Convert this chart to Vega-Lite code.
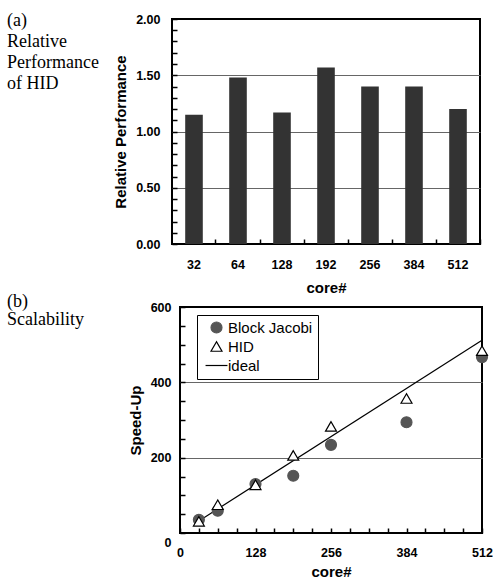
{
  "$schema": "https://vega.github.io/schema/vega-lite/v6.json",
  "background": "white",
  "padding": {"left": 7, "top": 12, "right": 0, "bottom": 0},
  "spacing": -4,
  "config": {
    "view": {"stroke": "black", "strokeWidth": 2},
    "axis": {
      "labelFont": "Liberation Sans", "labelFontWeight": "bold", "labelFontSize": 12.5, "labelColor": "black",
      "titleFont": "Liberation Sans", "titleFontWeight": "bold", "titleFontSize": 15, "titleColor": "black",
      "domain": false, "tickColor": "black", "tickWidth": 1.5, "gridColor": "#666", "gridWidth": 1, "labelOverlap": false
    }
  },
  "datasets": {
    "perf": [
      {"core": 32, "rel": 1.15}, {"core": 64, "rel": 1.48}, {"core": 128, "rel": 1.17},
      {"core": 192, "rel": 1.57}, {"core": 256, "rel": 1.40}, {"core": 384, "rel": 1.40}, {"core": 512, "rel": 1.20}
    ],
    "speed": [
      {"series": "Block Jacobi", "core": 32, "speedup": 35}, {"series": "Block Jacobi", "core": 64, "speedup": 59},
      {"series": "Block Jacobi", "core": 128, "speedup": 130}, {"series": "Block Jacobi", "core": 192, "speedup": 152},
      {"series": "Block Jacobi", "core": 256, "speedup": 234}, {"series": "Block Jacobi", "core": 384, "speedup": 294},
      {"series": "Block Jacobi", "core": 512, "speedup": 467},
      {"series": "HID", "core": 32, "speedup": 31}, {"series": "HID", "core": 64, "speedup": 75},
      {"series": "HID", "core": 128, "speedup": 128}, {"series": "HID", "core": 192, "speedup": 206},
      {"series": "HID", "core": 256, "speedup": 283}, {"series": "HID", "core": 384, "speedup": 357},
      {"series": "HID", "core": 512, "speedup": 484}
    ],
    "ideal": [{"core": 32, "speedup": 32}, {"core": 512, "speedup": 512}]
  },
  "vconcat": [
    {
      "bounds": "flush",
      "spacing": 65,
      "hconcat": [
        {
          "width": 100, "height": 225,
          "view": {"stroke": null},
          "data": {"values": [{"label": "(a)\nRelative\nPerformance\nof HID"}]},
          "mark": {"type": "text", "align": "left", "baseline": "alphabetic", "font": "Liberation Serif", "fontSize": 18, "lineHeight": 21, "lineBreak": "\n", "dy": 7, "color": "black"},
          "encoding": {
            "text": {"field": "label"},
            "x": {"datum": 0, "type": "quantitative", "scale": {"domain": [0, 1]}, "axis": null},
            "y": {"datum": 1, "type": "quantitative", "scale": {"domain": [0, 1]}, "axis": null}
          }
        },
        {
          "width": 308, "height": 225,
          "data": {"name": "perf"},
          "layer": [
            {
              "mark": {"type": "bar", "color": "#333"},
              "encoding": {
                "x": {"field": "core", "type": "ordinal", "sort": null,
                  "scale": {"paddingInner": 0.6, "paddingOuter": 0.3},
                  "axis": {"title": "core#", "labelAngle": 0, "ticks": false, "labelPadding": 14, "titlePadding": 10}},
                "y": {"field": "rel", "type": "quantitative", "scale": {"domain": [0, 2], "nice": false},
                  "axis": {"title": "Relative Performance",
                    "values": [0, 0.5, 1, 1.5, 2], "format": ".2f",
                    "ticks": false, "labelPadding": 12, "titlePadding": 7,
                    "gridOpacity": {"condition": {"test": "datum.value == 0.5 || datum.value == 1 || datum.value == 1.5", "value": 1}, "value": 0}}}
              }
            },
            {
              "mark": {"type": "bar", "opacity": 0},
              "encoding": {
                "x": {"field": "core", "type": "ordinal", "sort": null,
                  "axis": {"orient": "bottom", "bandPosition": 1.75, "labels": false, "title": null, "tickSize": 5, "offset": -5, "grid": false}},
                "y": {"field": "rel", "type": "quantitative",
                  "axis": {"orient": "left", "values": [0, 0.1, 0.2, 0.3, 0.4, 0.5, 0.6, 0.7, 0.8, 0.9, 1, 1.1, 1.2, 1.3, 1.4, 1.5, 1.6, 1.7, 1.8, 1.9, 2],
                    "labels": false, "title": null, "tickSize": 5, "offset": -5, "grid": false}}
              }
            }
          ],
          "resolve": {"axis": {"x": "independent", "y": "independent"}}
        }
      ]
    },
    {
      "bounds": "flush",
      "spacing": 73,
      "hconcat": [
        {
          "width": 100, "height": 226,
          "view": {"stroke": null},
          "data": {"values": [{"label": "(b)\nScalability"}]},
          "mark": {"type": "text", "align": "left", "baseline": "alphabetic", "font": "Liberation Serif", "fontSize": 18, "lineHeight": 18, "lineBreak": "\n", "dy": 0, "color": "black"},
          "encoding": {
            "text": {"field": "label"},
            "x": {"datum": 0, "type": "quantitative", "scale": {"domain": [0, 1]}, "axis": null},
            "y": {"datum": 1, "type": "quantitative", "scale": {"domain": [0, 1]}, "axis": null}
          }
        },
        {
          "width": 302, "height": 226,
          "layer": [
            {
              "data": {"name": "ideal"},
              "mark": {"type": "line", "color": "black", "strokeWidth": 1.2},
              "encoding": {
                "x": {"field": "core", "type": "quantitative", "scale": {"domain": [0, 512], "nice": false},
                  "axis": {"title": "core#", "values": [0, 128, 256, 384, 512],
                    "grid": false, "ticks": false, "labelPadding": 13, "titlePadding": 6, "labelFlush": false}},
                "y": {"field": "speedup", "type": "quantitative", "scale": {"domain": [0, 600], "nice": false},
                  "axis": {"title": "Speed-Up", "values": [0, 200, 400, 600],
                    "ticks": false, "labelPadding": 9, "titlePadding": 7, "labelFlush": false,
                    "labelOffset": {"condition": {"test": "datum.value == 0", "value": 9}, "value": 0},
                    "gridOpacity": {"condition": {"test": "datum.value == 200 || datum.value == 400", "value": 1}, "value": 0}}}
              }
            },
            {
              "data": {"name": "speed"},
              "mark": {"type": "point", "opacity": 1, "size": 120, "strokeWidth": 1.2},
              "encoding": {
                "x": {"field": "core", "type": "quantitative",
                  "axis": {"orient": "bottom", "values": [0, 32, 64, 96, 128, 160, 192, 224, 256, 288, 320, 352, 384, 416, 448, 480, 512],
                    "labels": false, "title": null, "tickSize": 5, "offset": -5, "grid": false}},
                "y": {"field": "speedup", "type": "quantitative",
                  "axis": {"orient": "left", "values": [0, 50, 100, 150, 200, 250, 300, 350, 400, 450, 500, 550, 600],
                    "labels": false, "title": null, "tickSize": 5, "offset": -5, "grid": false}},
                "shape": {"field": "series", "type": "nominal",
                  "scale": {"domain": ["Block Jacobi", "HID", "ideal"], "range": ["circle", "triangle-up", "M-2,0H2"]},
                  "legend": {"orient": "none", "legendX": 190, "legendY": 296, "title": null,
                    "labelFont": "Liberation Sans", "labelFontSize": 15, "labelFontWeight": "normal", "labelColor": "black",
                    "strokeColor": "black", "fillColor": "white", "padding": 5, "rowPadding": 3,
                    "symbolSize": 120, "symbolStrokeWidth": 1.2, "symbolOffset": 7, "labelOffset": 4}},
                "fill": {"field": "series", "type": "nominal",
                  "scale": {"domain": ["Block Jacobi", "HID", "ideal"], "range": ["#555", "white", "black"]}},
                "stroke": {"field": "series", "type": "nominal",
                  "scale": {"domain": ["Block Jacobi", "HID", "ideal"], "range": ["#555", "black", "black"]}}
              }
            }
          ],
          "resolve": {"axis": {"x": "independent", "y": "independent"}}
        }
      ]
    }
  ]
}
